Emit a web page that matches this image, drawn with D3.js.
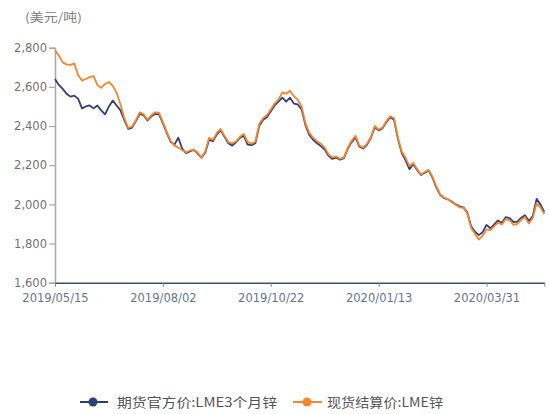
<!DOCTYPE html>
<html><head><meta charset="utf-8">
<script src="https://cdn.jsdelivr.net/npm/d3@7/dist/d3.min.js"></script>
<style>body{margin:0;background:#fff}svg{display:block}</style>
</head><body>
<svg id="c" width="549" height="414"></svg>
<script>
const unitLabel = "(美元/吨)";
const seriesNames = ["期货官方价:LME3个月锌", "现货结算价:LME锌"];
const xTickLabels = ["2019/05/15", "2019/08/02", "2019/10/22", "2020/01/13", "2020/03/31"];
const xTickStep = 28;
const yTicks = [1600, 1800, 2000, 2200, 2400, 2600, 2800];

const lme3m = [
2640,2610,2590,2565,2550,2555,2540,2490,2500,2505,2490,2505,2480,2460,2500,2530,2505,2480,2430,2385,
2392,2425,2462,2455,2428,2450,2462,2460,2415,2365,2320,2305,2340,2285,2262,2270,2278,2260,2238,2265,
2330,2322,2358,2378,2345,2312,2300,2318,2340,2350,2305,2302,2312,2400,2432,2445,2475,2505,2525,2545,
2525,2545,2515,2510,2485,2405,2355,2330,2312,2298,2280,2248,2232,2238,2228,2236,2285,2318,2342,2295,
2285,2305,2340,2395,2378,2388,2420,2445,2432,2335,2262,2225,2180,2205,2175,2150,2162,2172,2135,2085,
2048,2032,2025,2015,2000,1990,1985,1960,1888,1860,1843,1858,1895,1878,1898,1918,1905,1935,1930,1910,
1912,1932,1945,1915,1940,2028,2000,1962];

const lmeSpot = [
2785,2760,2725,2715,2712,2720,2660,2632,2640,2650,2655,2610,2595,2615,2625,2605,2570,2510,2440,2390,
2398,2430,2470,2460,2432,2455,2470,2468,2420,2370,2325,2300,2290,2277,2265,2275,2280,2265,2240,2270,
2340,2330,2365,2385,2350,2318,2312,2322,2345,2360,2318,2310,2320,2410,2440,2455,2485,2515,2535,2572,
2565,2580,2552,2535,2500,2415,2365,2340,2322,2310,2290,2255,2240,2245,2232,2240,2290,2325,2350,2300,
2290,2310,2345,2400,2382,2392,2425,2450,2440,2340,2270,2238,2195,2212,2180,2152,2165,2176,2140,2090,
2050,2035,2025,2012,1998,1985,1982,1955,1880,1850,1820,1840,1872,1869,1888,1908,1897,1925,1920,1895,
1900,1922,1935,1902,1930,2005,1985,1950];

const colors = ["#2f3f7e", "#f5862b"];

const svg = d3.select("#c");
const n = lmeSpot.length;
const x = d3.scaleLinear().domain([0, n - 1]).range([55, 544.3]);
const y = d3.scaleLinear().domain([1600, 2800]).range([282.7, 47.7]);

// title
svg.append("text").attr("x", 25).attr("y", 22)
  .attr("font-family", "'Noto Sans CJK SC', sans-serif").attr("font-size", 12)
  .attr("fill", "#808080").attr("textLength", 57).attr("lengthAdjust", "spacingAndGlyphs")
  .text(unitLabel);

// y axis
const yAxis = d3.axisLeft(y).tickValues(yTicks).tickFormat(d3.format(",")).tickSize(6).tickPadding(2);
const gy = svg.append("g").attr("transform", "translate(55,0)").call(yAxis);
gy.select(".domain").attr("stroke", "#a8a8a8").attr("stroke-width", 1.5);
gy.selectAll(".tick line").attr("stroke", "#a8a8a8").attr("stroke-width", 1.2);
gy.selectAll(".tick text").attr("font-family", "'DejaVu Sans', sans-serif").attr("font-size", 11.5)
  .attr("fill", "#727272");

// x axis
const xTickVals = xTickLabels.map((d, i) => i * xTickStep).concat([n - 1]);
const xAxis = d3.axisBottom(x).tickValues(xTickVals)
  .tickFormat((d, i) => xTickLabels[i] || "").tickSize(4).tickSizeOuter(0).tickPadding(7);
const gx = svg.append("g").attr("transform", "translate(0,282.7)").call(xAxis);
gx.select(".domain").attr("stroke", "#3f5260").attr("stroke-width", 1.4);
gx.selectAll(".tick line").attr("stroke", "#7c8a94");
gx.selectAll(".tick text").attr("font-family", "'DejaVu Sans', sans-serif").attr("font-size", 11.5)
  .attr("fill", "#647886");

// lines
const line = d3.line().x((d, i) => x(i)).y(d => y(d));
[lme3m, lmeSpot].forEach((s, k) => {
  svg.append("path").datum(s).attr("d", line).attr("fill", "none")
    .attr("stroke", colors[k]).attr("stroke-width", 1.8).attr("stroke-linejoin", "round");
});

// legend
const leg = [
  {lx1: 80, lx2: 108, cx: 93, tx: 117, tw: 160},
  {lx1: 293, lx2: 322, cx: 307, tx: 327, tw: 116}
];
const ly = 402;
leg.forEach((L, k) => {
  svg.append("line").attr("x1", L.lx1).attr("x2", L.lx2).attr("y1", ly).attr("y2", ly)
    .attr("stroke", colors[k]).attr("stroke-width", 2);
  svg.append("circle").attr("cx", L.cx).attr("cy", ly).attr("r", 4.5).attr("fill", colors[k]);
  svg.append("text").attr("x", L.tx).attr("y", ly + 4.5)
    .attr("font-family", "'Noto Sans CJK SC', sans-serif").attr("font-size", 13)
    .attr("fill", "#555").attr("textLength", L.tw).attr("lengthAdjust", "spacingAndGlyphs")
    .text(seriesNames[k]);
});
</script>
</body></html>
